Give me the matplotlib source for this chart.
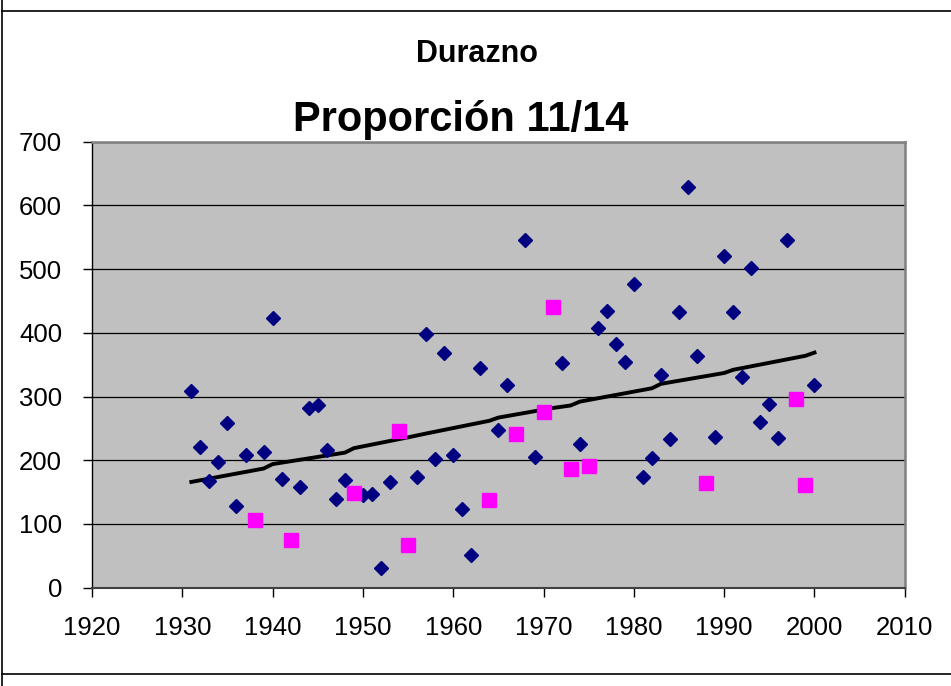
import numpy as np
import matplotlib
matplotlib.use("Agg")
import matplotlib.pyplot as plt
from matplotlib.lines import Line2D

plt.rcParams["font.family"] = ["Liberation Sans", "DejaVu Sans"]

years = np.arange(1931, 2001)
proportion = [
    308, 221, 168, 197, 258, 129, 208, 106, 213, 424,
    171, 75, 158, 282, 287, 216, 139, 169, 148, 145,
    147, 31, 166, 246, 67, 174, 398, 202, 369, 208,
    124, 52, 345, 138, 248, 318, 241, 545, 205, 275,
    441, 352, 187, 226, 191, 408, 434, 382, 355, 476,
    173, 203, 334, 234, 432, 629, 363, 164, 237, 521,
    432, 331, 502, 260, 289, 235, 545, 296, 161, 318,
]
highlight_years = [1938, 1942, 1949, 1954, 1955, 1964, 1967, 1970, 1971,
                   1973, 1975, 1988, 1998, 1999]

trend_years = [1931, 1939, 1940, 1948, 1949, 1955, 1957, 1964, 1965,
               1971, 1973, 1974, 1982, 1983, 1990, 1991, 1999, 2000]
trend_values = [166, 187, 194, 212, 219, 236, 242, 262, 267,
                282, 286, 292, 313, 320, 337, 342, 364, 369]

value_by_year = dict(zip(years, proportion))
highlight_values = [value_by_year[y] for y in highlight_years]

fig = plt.figure(figsize=(9.51, 6.86), dpi=100)
ax = fig.add_axes([92 / 951, 1 - 587.7 / 686, (904.8 - 92) / 951, (587.7 - 141.7) / 686])
ax.set_facecolor("#C0C0C0")

ax.plot(trend_years, trend_values, color="black", linewidth=2.8, zorder=3)
ax.plot(years, proportion, linestyle="none", marker="D", markersize=6.8,
        color="#000080", zorder=4)
ax.plot(highlight_years, highlight_values, linestyle="none", marker="s",
        markersize=9.6, color="#FF00FF", zorder=5)

ax.set_xlim(1920, 2010)
ax.set_ylim(0, 700)
ax.set_xticks(np.arange(1920, 2011, 10))
ax.set_yticks(np.arange(0, 701, 100))
ax.yaxis.grid(True, color="black", linewidth=0.9)
ax.set_axisbelow(True)
ax.tick_params(axis="both", direction="out", length=6.5, width=1, labelsize=18.5,
               colors="black")
ax.tick_params(axis="x", pad=14)
ax.tick_params(axis="y", pad=15)

ax.spines["left"].set_color("black")
ax.spines["left"].set_linewidth(1)
ax.spines["bottom"].set_color("#404040")
ax.spines["bottom"].set_linewidth(1.5)
for side in ("top", "right"):
    ax.spines[side].set_color("#808080")
    ax.spines[side].set_linewidth(1.8)

fig.text(477 / 951, 1 - 54 / 686, "Durazno", ha="center", va="center",
         fontsize=22, fontweight="bold")
fig.text(460.5 / 951, 1 - 131 / 686, "Proporción 11/14", ha="center",
         va="baseline", fontsize=30, fontweight="bold")

# sheet borders around the chart
fig.add_artist(Line2D([2 / 951, 2 / 951], [0, 1], color="black", linewidth=1.2))
fig.add_artist(Line2D([2 / 951, 1], [1 - 11 / 686, 1 - 11 / 686], color="black", linewidth=1.2))
fig.add_artist(Line2D([2 / 951, 1], [1 - 674 / 686, 1 - 674 / 686], color="black", linewidth=1.2))

fig.savefig("out.png", dpi=100)
